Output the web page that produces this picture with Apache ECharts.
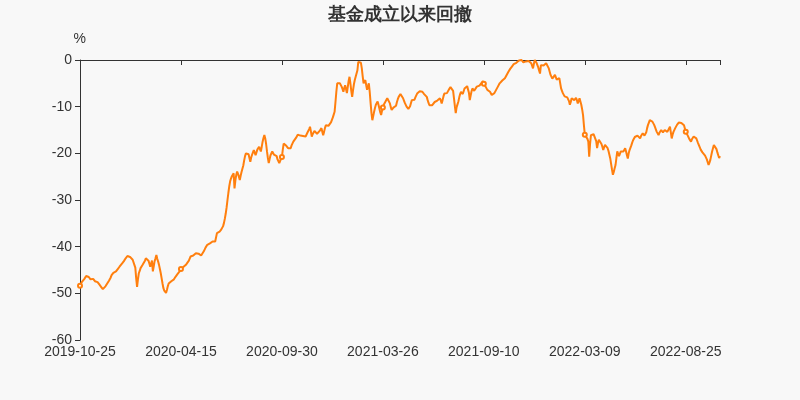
<!DOCTYPE html>
<html>
<head>
<meta charset="utf-8">
<script src="https://cdn.jsdelivr.net/npm/echarts@6/dist/echarts.min.js"></script>
<style>
html,body{margin:0;padding:0;background:#f8f8f8;}
#chart{width:800px;height:400px;}
</style>
</head>
<body>
<div id="chart"></div>
<script>
// Title and axis texts
const chartTitle = '基金成立以来回撤';
const yAxisName = '%';
const yTicks = [0, -10, -20, -30, -40, -50, -60];

// Trading-day categories: weekdays from the first date, minus exchange holidays
const startDate = '2019-10-25';
const holidays = [
  '2020-01-01','2020-01-24','2020-01-27','2020-01-28','2020-01-29','2020-01-30','2020-01-31',
  '2020-04-06','2020-05-01','2020-05-04','2020-05-05','2020-06-25','2020-06-26',
  '2020-10-01','2020-10-02','2020-10-05','2020-10-06','2020-10-07','2020-10-08',
  '2021-01-01','2021-02-11','2021-02-12','2021-02-15','2021-02-16','2021-02-17',
  '2021-04-05','2021-05-03','2021-05-04','2021-05-05','2021-06-14','2021-09-20','2021-09-21',
  '2021-10-01','2021-10-04','2021-10-05','2021-10-06','2021-10-07',
  '2022-01-03','2022-01-31','2022-02-01','2022-02-02','2022-02-03','2022-02-04',
  '2022-04-04','2022-04-05','2022-05-02','2022-05-03','2022-05-04','2022-06-03','2022-09-12',
  '2022-10-03','2022-10-04','2022-10-05','2022-10-06','2022-10-07'
];

// Drawdown (%) per trading day
const drawdown = [
-48.4,-48.0,-47.6,-47.8,-47.2,-46.9,-46.5,-46.3,-46.4,-46.2,
-46.5,-46.6,-47.0,-47.3,-47.1,-46.9,-47.0,-47.4,-47.5,-47.2,
-47.6,-47.9,-48.1,-48.4,-48.6,-48.9,-49.1,-49.0,-48.8,-48.5,
-48.2,-47.9,-47.6,-47.3,-47.0,-46.6,-46.1,-45.7,-45.6,-45.8,
-45.5,-45.3,-45.0,-44.8,-44.6,-44.3,-44.1,-43.9,-43.6,-43.4,
-43.1,-42.8,-42.5,-42.3,-42.0,-42.1,-41.9,-42.2,-42.3,-42.6,
-42.8,-43.0,-43.2,-44.5,-46.8,-48.6,-47.0,-45.7,-45.2,-44.6,
-44.3,-44.0,-43.8,-43.6,-43.0,-42.5,-42.1,-42.6,-43.0,-43.6,
-44.3,-43.6,-43.0,-45.3,-44.2,-43.1,-42.5,-41.8,-42.6,-43.2,
-43.9,-44.8,-45.7,-46.8,-47.9,-48.9,-49.4,-49.6,-49.9,-49.3,
-48.5,-47.9,-47.6,-47.8,-47.4,-47.7,-47.5,-47.0,-46.7,-46.4,
-46.2,-45.9,-45.6,-45.4,-45.1,-44.8,-44.9,-44.6,-44.3,-44.1,
-44.0,-43.8,-43.9,-43.6,-43.0,-42.6,-42.1,-42.4,-42.2,-41.9,
-41.7,-41.6,-41.4,-41.7,-41.3,-41.5,-41.1,-41.6,-41.9,-42.1,
-41.6,-41.0,-40.6,-40.2,-40.0,-39.6,-39.8,-39.5,-39.3,-39.1,
-39.2,-38.9,-39.1,-38.7,-38.9,-38.6,-37.1,-37.4,-37.0,-36.8,
-36.5,-36.3,-36.1,-35.6,-34.9,-34.0,-32.9,-31.6,-30.0,-28.5,
-27.1,-26.0,-25.4,-24.9,-24.5,-24.3,-27.5,-25.8,-24.6,-23.9,
-24.4,-25.0,-25.7,-24.8,-24.0,-23.6,-22.6,-21.5,-20.6,-20.0,
-19.8,-19.6,-20.2,-21.0,-21.8,-20.9,-20.3,-19.8,-19.3,-19.7,
-20.4,-19.8,-19.2,-18.9,-18.6,-19.0,-19.6,-18.6,-17.5,-16.7,
-16.1,-16.8,-18.0,-19.6,-21.0,-22.1,-21.2,-20.4,-20.0,-19.6,
-19.8,-20.3,-19.9,-20.0,-20.6,-21.3,-21.7,-22.1,-21.6,-21.3,
-20.8,-19.2,-17.9,-18.3,-18.0,-18.4,-18.6,-18.9,-18.7,-19.1,
-18.9,-18.3,-17.9,-17.5,-17.1,-17.1,-16.7,-16.4,-16.0,-15.7,
-15.9,-16.2,-16.0,-16.1,-16.3,-16.6,-16.2,-16.4,-16.0,-15.6,
-15.2,-14.8,-14.3,-15.3,-16.4,-15.9,-15.5,-15.2,-15.4,-15.6,
-15.8,-15.5,-15.7,-15.2,-14.9,-14.6,-14.3,-16.1,-15.4,-14.6,
-14.0,-13.6,-13.9,-14.1,-14.3,-13.8,-13.3,-12.9,-12.3,-11.7,
-11.1,-9.0,-6.8,-5.0,-5.2,-4.6,-5.0,-5.4,-5.7,-6.2,
-6.8,-6.0,-5.4,-6.2,-7.1,-5.8,-4.5,-3.6,-5.0,-6.6,
-7.9,-6.5,-5.2,-4.3,-4.6,-4.3,-2.2,-0.4,-0.8,0,
-0.6,-1.8,-3.5,-5.0,-4.6,-4.3,-5.4,-6.4,-5.6,-5.0,
-6.8,-9.2,-11.4,-12.9,-12.0,-11.1,-10.3,-9.6,-9.2,-8.9,
-9.6,-10.4,-11.2,-11.8,-10.9,-10.2,-9.6,-9.2,-8.9,-8.6,
-8.2,-8.4,-8.6,-9.3,-10.1,-10.7,-10.5,-10.2,-10.6,-10.4,
-9.8,-9.0,-8.4,-7.9,-7.5,-7.3,-7.6,-7.1,-8.2,-8.7,
-9.2,-9.6,-10.0,-10.3,-10.5,-10.7,-9.9,-9.2,-8.6,-8.7,
-8.9,-8.5,-8.0,-7.6,-7.2,-6.8,-6.9,-6.7,-6.5,-6.6,
-6.8,-7.0,-7.3,-7.5,-7.7,-7.9,-8.6,-9.2,-9.7,-10.0,
-9.9,-9.7,-9.6,-9.3,-9.0,-8.8,-8.6,-8.7,-8.4,-8.3,
-8.2,-8.7,-9.3,-8.6,-7.8,-7.2,-6.8,-6.9,-7.1,-6.7,
-6.4,-6.1,-5.8,-5.6,-5.4,-6.6,-8.2,-9.9,-11.4,-10.1,
-9.5,-8.9,-8.0,-7.3,-6.8,-7.0,-7.3,-7.5,-6.1,-5.9,
-5.8,-5.6,-5.7,-7.0,-8.6,-7.6,-6.7,-6.1,-6.4,-6.6,
-6.8,-6.2,-5.7,-5.9,-5.6,-5.5,-5.4,-5.0,-4.7,-4.5,
-5.1,-5.4,-5.7,-6.0,-6.4,-6.6,-6.5,-6.8,-7.2,-7.5,
-7.9,-7.5,-7.1,-6.8,-6.4,-6.1,-5.7,-5.3,-5.0,-4.8,
-4.6,-4.4,-4.1,-4.0,-3.9,-3.5,-3.2,-2.8,-2.5,-2.2,
-1.9,-1.7,-1.4,-1.2,-0.9,-0.7,-0.5,-0.6,-0.3,-0.2,
-0.1,-0.3,-0.1,0,-0.2,-0.5,-0.4,-0.2,-0.3,-0.1,
0,-0.2,-0.3,-0.5,-0.7,-1.1,-1.8,-0.8,0,-0.3,
-0.6,-1.1,-1.6,-2.3,-2.9,-1.1,-1.3,-1.0,-1.2,-1.4,
-1.0,-0.7,-0.8,-1.1,-1.8,-2.5,-3.2,-3.6,-4.0,-4.3,
-3.7,-3.2,-3.6,-4.2,-4.6,-4.2,-3.9,-5.0,-6.1,-6.6,
-7.1,-7.5,-7.8,-8.0,-8.2,-8.0,-7.9,-8.8,-9.6,-9.0,
-8.2,-8.5,-8.3,-8.6,-8.4,-8.1,-8.6,-9.3,-8.8,-8.2,
-8.9,-9.6,-10.6,-11.8,-14.0,-16.0,-15.8,-16.3,-16.9,-17.5,
-20.7,-18.0,-16.1,-15.9,-15.7,-15.9,-15.8,-16.1,-17.4,-18.9,
-17.8,-17.1,-17.3,-17.5,-18.0,-18.6,-19.3,-18.7,-18.2,-18.4,
-18.6,-18.9,-19.5,-20.3,-21.1,-22.3,-23.5,-24.6,-24.0,-23.2,
-22.5,-21.0,-19.6,-20.1,-20.6,-20.2,-19.6,-19.3,-19.5,-19.6,
-19.2,-18.9,-19.6,-20.4,-21.1,-20.0,-19.3,-18.9,-18.3,-17.7,
-17.2,-16.8,-16.5,-16.7,-16.4,-16.2,-16.5,-16.6,-16.8,-16.3,
-16.0,-15.7,-15.9,-16.2,-16.4,-15.5,-14.6,-13.9,-13.4,-12.9,
-12.5,-12.8,-13.2,-13.5,-13.9,-14.4,-14.9,-15.4,-15.8,-16.1,
-15.6,-15.2,-15.0,-15.2,-15.5,-15.4,-15.0,-14.6,-15.0,-15.4,
-15.7,-15.0,-14.3,-15.5,-16.8,-16.0,-15.4,-15.0,-14.6,-14.2,
-13.9,-13.6,-13.4,-13.3,-13.2,-13.5,-13.8,-13.6,-14.0,-14.3,
-15.4,-15.7,-16.1,-16.4,-16.9,-17.2,-17.5,-17.0,-16.6,-16.4,
-16.5,-16.7,-16.8,-17.3,-17.8,-18.2,-18.7,-19.2,-19.6,-19.8,
-20.0,-20.2,-20.5,-20.7,-21.3,-21.9,-22.5,-22.0,-21.4,-20.5,
-19.6,-18.9,-18.2,-18.4,-18.6,-19.1,-19.8,-20.4,-21.0,-20.6
];

// build the list of trading-day labels
function pad(n){ return n < 10 ? '0' + n : '' + n; }
const holidaySet = new Set(holidays);
const dates = [];
(function(){
  const p = startDate.split('-').map(Number);
  const d = new Date(Date.UTC(p[0], p[1]-1, p[2]));
  while (dates.length < drawdown.length) {
    const wd = d.getUTCDay();
    const s = d.getUTCFullYear() + '-' + pad(d.getUTCMonth()+1) + '-' + pad(d.getUTCDate());
    if (wd !== 0 && wd !== 6 && !holidaySet.has(s)) dates.push(s);
    d.setUTCDate(d.getUTCDate() + 1);
  }
})();

const labelStep = 115;
const lastIndex = dates.length - 1;
const chart = echarts.init(document.getElementById('chart'), null, {renderer: 'canvas'});
const axisColor = '#333';
const labelFont = 'Liberation Sans, Arial, sans-serif';
chart.setOption({
  backgroundColor: '#f8f8f8',
  animation: false,
  title: {
    text: chartTitle,
    left: 'center',
    top: 1,
    textStyle: {fontSize: 18, fontWeight: 'bold', color: '#333'}
  },
  grid: {left: 80, right: 80, top: 60, bottom: 60},
  xAxis: [{
    type: 'category',
    data: dates,
    boundaryGap: false,
    position: 'bottom',
    axisLine: {onZero: true, lineStyle: {color: axisColor}},
    axisTick: {
      show: true,
      interval: function (idx) { return idx % labelStep === 0 || idx === lastIndex; },
      lineStyle: {color: axisColor}
    },
    axisLabel: {show: false},
    splitLine: {show: false}
  }, {
    type: 'category',
    data: dates,
    boundaryGap: false,
    position: 'bottom',
    axisLine: {show: false, onZero: false},
    axisTick: {show: false},
    axisLabel: {show: true, interval: labelStep - 1, color: axisColor, fontSize: 14, fontFamily: labelFont, margin: 5},
    splitLine: {show: false}
  }],
  yAxis: {
    type: 'value',
    min: yTicks[yTicks.length - 1],
    max: yTicks[0],
    interval: 10,
    name: yAxisName,
    nameGap: 14,
    nameTextStyle: {color: axisColor, fontSize: 14, fontFamily: labelFont, align: 'right', padding: [0, -6, 0, 0]},
    axisLine: {show: true, lineStyle: {color: axisColor}},
    axisTick: {show: true, lineStyle: {color: axisColor}},
    axisLabel: {color: axisColor, fontSize: 14, fontFamily: labelFont},
    splitLine: {show: false}
  },
  series: [{
    type: 'line',
    data: drawdown,
    xAxisIndex: 1,
    symbol: 'emptyCircle',
    symbolSize: 4,
    showSymbol: true,
    showAllSymbol: 'auto',
    lineStyle: {width: 2, color: '#ff7f0e'},
    itemStyle: {color: '#ff7f0e'}
  }]
});
</script>
</body>
</html>
